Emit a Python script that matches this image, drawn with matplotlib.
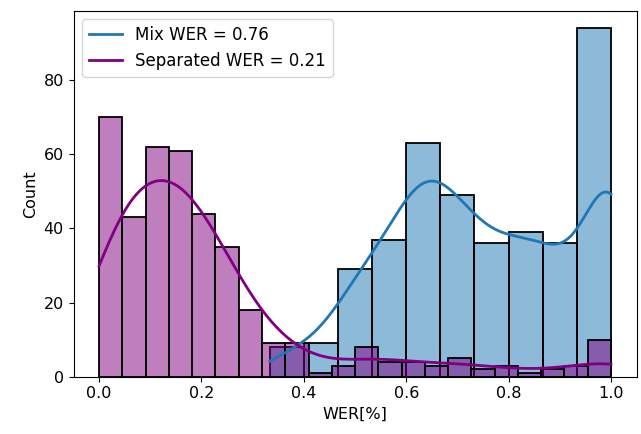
import matplotlib
matplotlib.use("Agg")
import matplotlib.pyplot as plt
import numpy as np
import seaborn as sns

# Mix WER histogram: 10 bins from 1/3 to 1
mix_range = (1 / 3, 1.0)
mix_counts = [8, 9, 29, 37, 63, 49, 36, 39, 36, 94]

# Separated WER histogram: 22 bins from 0 to 1
sep_range = (0.0, 1.0)
sep_counts = [70, 43, 62, 61, 44, 35, 18, 9, 9, 1, 3, 8, 4, 4, 3, 5, 2, 3, 1, 2, 3, 10]

labels = ["Mix WER = 0.76", "Separated WER = 0.21"]
colors = ["tab:blue", "purple"]

plt.rcParams["font.size"] = 11.5


def make_samples(rng, counts):
    """Items sit at their bin centre, except the last bin: WER of exactly 1.0"""
    edges = np.linspace(rng[0], rng[1], len(counts) + 1)
    values = (edges[:-1] + edges[1:]) / 2
    values[-1] = rng[1]
    return np.repeat(values, counts), edges


fig = plt.figure(figsize=(6.41, 4.34), dpi=100)
ax = fig.add_axes([0.1147, 0.132, 0.8784, 0.8427])

for rng, counts, color in zip([mix_range, sep_range], [mix_counts, sep_counts], colors):
    samples, edges = make_samples(rng, counts)
    sns.histplot(x=samples, bins=edges.tolist(), kde=True, color=color,
                 edgecolor="black", linewidth=1.3,
                 kde_kws={"cut": 3, "clip": rng},
                 line_kws={"linewidth": 2}, ax=ax)

ax.legend(handles=ax.lines[:2], labels=labels, loc="upper left", fontsize=12)
ax.set_xlabel("WER[%]")
ax.set_ylabel("Count")

fig.savefig("out.png", dpi=100)
